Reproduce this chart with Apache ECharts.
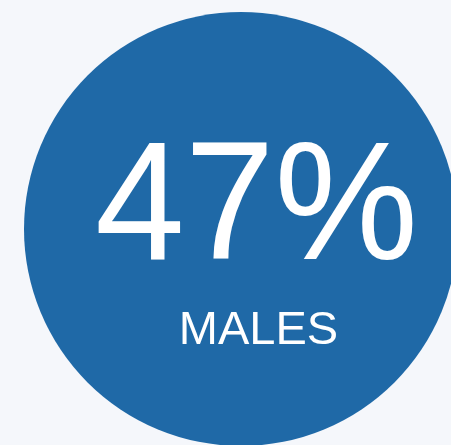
<!DOCTYPE html>
<html><head><meta charset="utf-8">
<script src="https://cdn.jsdelivr.net/npm/echarts@6/dist/echarts.min.js"></script>
<style>html,body{margin:0;padding:0;background:#f5f7fb;}#c{width:451px;height:445px;}</style>
</head><body><div id="c"></div>
<script>
const categories = ['MALES'];
const values = [47];
const valueLabels = ['47%'];
const chart = echarts.init(document.getElementById('c'), null, {renderer:'canvas'});
chart.setOption({
  backgroundColor: '#f5f7fb',
  animation: false,
  series: [{
    type: 'pie',
    center: [241, 229],
    radius: [0, 217],
    silent: true,
    label: {show: false},
    labelLine: {show: false},
    itemStyle: {color: '#1f69a7'},
    data: categories.map((c, i) => ({name: c, value: values[i]}))
  }],
  graphic: [
    {type: 'text', z: 100, x: 256.5, y: 296.5, scaleX: 0.955, style: {text: valueLabels[0], x: 0, y: 0, fill: '#ffffff', font: '169px "Liberation Sans", Arial, sans-serif', align: 'center', verticalAlign: 'bottom'}},
    {type: 'text', z: 100, x: 258.5, y: 355, style: {text: categories[0], x: 0, y: 0, fill: '#ffffff', font: '47px "Liberation Sans", Arial, sans-serif', align: 'center', verticalAlign: 'bottom'}}
  ]
});
</script></body></html>
